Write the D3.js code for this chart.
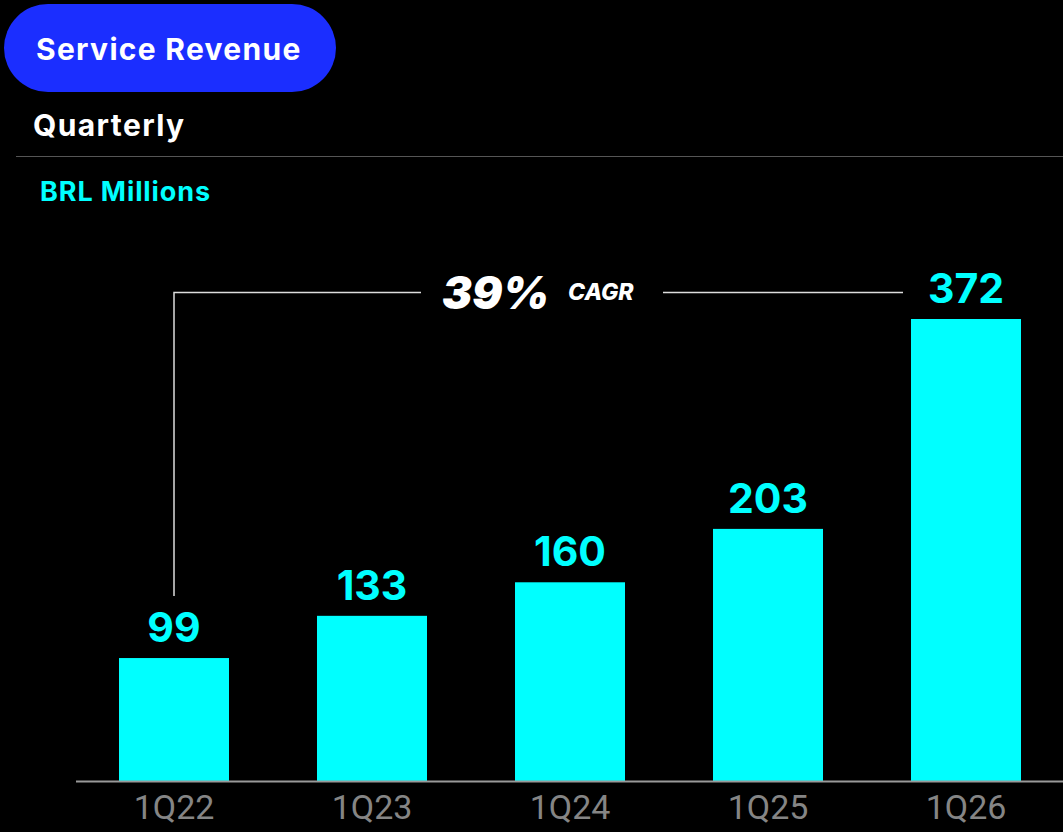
<!DOCTYPE html>
<html>
<head>
<meta charset="utf-8">
<script src="https://cdn.jsdelivr.net/npm/d3@7"></script>
<style>
  html, body { margin: 0; padding: 0; background: #000; }
  svg { display: block; }
</style>
</head>
<body>
<div id="chart"></div>
<script>
// chart values
var quarters = ["1Q22", "1Q23", "1Q24", "1Q25", "1Q26"];
var revenue = [99, 133, 160, 203, 372];
var cagrLabel = "39%";

var width = 1063, height = 832;
var baseY = 781;

var svg = d3.select("#chart").append("svg")
    .attr("width", width)
    .attr("height", height)
    .style("background", "#000");

/* header pill */
svg.append("rect")
    .attr("x", 4).attr("y", 4)
    .attr("width", 332).attr("height", 88)
    .attr("rx", 44)
    .attr("fill", "#1b2eff");
svg.append("text")
    .attr("x", 36).attr("y", 60)
    .attr("fill", "#fff")
    .style("font", "bold 30px Inter, 'Noto Sans', sans-serif")
    .style("letter-spacing", "1.3px")
    .text("Service Revenue");

svg.append("text")
    .attr("x", 33).attr("y", 136)
    .attr("fill", "#fff")
    .style("font", "bold 30px Inter, 'Noto Sans', sans-serif")
    .style("letter-spacing", "1.4px")
    .text("Quarterly");

svg.append("line")
    .attr("x1", 16).attr("x2", width)
    .attr("y1", 156.5).attr("y2", 156.5)
    .attr("stroke", "#555").attr("stroke-width", 1);

svg.append("text")
    .attr("x", 40).attr("y", 201)
    .attr("fill", "#00ffff")
    .style("font", "bold 27px Inter, 'Noto Sans', sans-serif")
    .style("letter-spacing", "0.9px")
    .text("BRL Millions");

/* scales */
var x = d3.scaleBand()
    .domain(quarters)
    .range([75, 1065])
    .paddingInner(0.4444)
    .paddingOuter(0.2222);

var y = d3.scaleLinear()
    .domain([0, 372])
    .range([baseY, 319]);

var data = quarters.map(function(q, i) { return {q: q, v: revenue[i]}; });

/* bars */
svg.selectAll("rect.bar")
    .data(data)
    .enter().append("rect")
    .attr("class", "bar")
    .attr("x", function(d) { return x(d.q); })
    .attr("y", function(d) { return y(d.v); })
    .attr("width", x.bandwidth())
    .attr("height", function(d) { return baseY - y(d.v); })
    .attr("fill", "#00ffff");

/* value labels */
svg.selectAll("text.val")
    .data(data)
    .enter().append("text")
    .attr("class", "val")
    .attr("x", function(d) { return x(d.q) + x.bandwidth() / 2; })
    .attr("y", function(d) { return y(d.v) - 16; })
    .attr("text-anchor", "middle")
    .attr("fill", "#00ffff")
    .style("font", "bold 41px Inter, 'Noto Sans', sans-serif")
    .text(function(d) { return d.v; });

/* x axis */
var axis = svg.append("g")
    .attr("transform", "translate(0," + baseY + ")")
    .call(d3.axisBottom(x).tickSize(0).tickPadding(14));
axis.select(".domain").remove();
axis.append("line")
    .attr("x1", 76).attr("x2", width)
    .attr("y1", 0.5).attr("y2", 0.5)
    .attr("stroke", "#999").attr("stroke-width", 2);
axis.selectAll("text")
    .attr("fill", "#858585")
    .attr("dy", "0.71em")
    .style("font", "400 34px Roboto, sans-serif");

/* CAGR bracket */
var first = data[0], last = data[data.length - 1];
var bx1 = x(first.q) + x.bandwidth() / 2;
var by = 292.5;
svg.append("path")
    .attr("d", "M" + bx1 + "," + (y(first.v) - 62) + "V" + by + "H421")
    .attr("fill", "none").attr("stroke", "#ddd").attr("stroke-width", 1.5);
svg.append("line")
    .attr("x1", 663).attr("x2", 903)
    .attr("y1", by).attr("y2", by)
    .attr("stroke", "#ddd").attr("stroke-width", 1.5);

svg.append("text")
    .attr("x", 442).attr("y", 309)
    .attr("fill", "#fff")
    .style("font", "italic 900 45px Inter, 'Noto Sans', sans-serif")
    .text(cagrLabel);
svg.append("text")
    .attr("x", 568).attr("y", 300)
    .attr("fill", "#fff")
    .style("font", "italic 800 23px Inter, 'Noto Sans', sans-serif")
    .text("CAGR");
</script>
</body>
</html>
